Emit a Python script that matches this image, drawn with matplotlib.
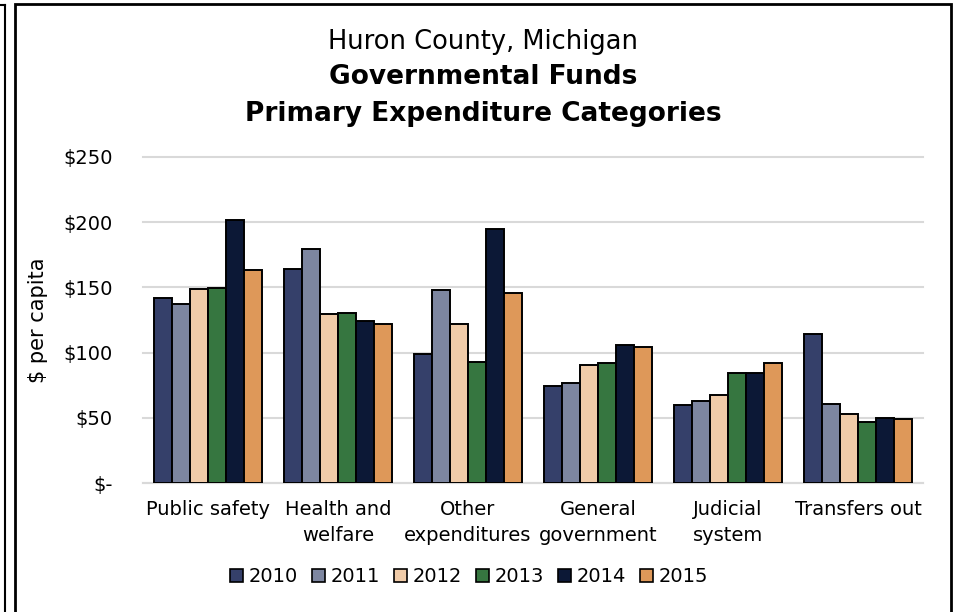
import matplotlib.pyplot as plt
import numpy as np
from matplotlib.lines import Line2D
from matplotlib.patches import Rectangle

plt.rcParams['font.family'] = ['DejaVu Sans']

# categories and yearly values ($ per capita)
categories = ['Public safety', 'Health and\nwelfare', 'Other\nexpenditures',
              'General\ngovernment', 'Judicial\nsystem', 'Transfers out']
years = ['2010', '2011', '2012', '2013', '2014', '2015']
v2010 = [141.6, 163.9, 99.2, 74.7, 59.7, 114.5]
v2011 = [137.0, 179.2, 148.0, 76.8, 63.0, 60.7]
v2012 = [148.8, 129.9, 122.2, 90.8, 67.6, 52.8]
v2013 = [149.8, 130.6, 93.1, 92.1, 84.2, 46.9]
v2014 = [201.6, 124.5, 195.0, 105.7, 84.7, 50.0]
v2015 = [163.0, 122.2, 145.7, 104.6, 91.9, 49.0]
series = [v2010, v2011, v2012, v2013, v2014, v2015]
colors = ['#35406a', '#7d86a0', '#f0cba8', '#367640', '#0c1836', '#de9859']

fig = plt.figure(figsize=(9.56, 6.12), dpi=100)
ax = fig.add_axes([143 / 956, 1 - 483.3 / 612, 780 / 956, 326.5 / 612])

x = np.arange(len(categories))
w = 0.138
for i, (vals, c) in enumerate(zip(series, colors)):
    ax.bar(x + (i - 2.5) * w, vals, width=w, color=c, edgecolor='black',
           linewidth=1.4, label=years[i], zorder=3)

ax.set_xlim(-0.5, len(categories) - 0.5)
ax.set_ylim(0, 250)
ax.set_yticks(range(0, 251, 50))
ax.set_yticklabels(['$-', '$50', '$100', '$150', '$200', '$250'])
ax.yaxis.grid(True, color='#d9d9d9', linewidth=1.5, zorder=0)
for gl in ax.get_ygridlines():
    gl.set_clip_on(False)
ax.set_xticks(x)
ax.set_xticklabels(categories, fontsize=14, linespacing=1.45)
ax.tick_params(axis='y', labelsize=14, length=0, pad=22)
ax.tick_params(axis='x', length=0, pad=12)
for s in ['top', 'right', 'left']:
    ax.spines[s].set_visible(False)
ax.spines['bottom'].set_color('#d9d9d9')
ax.spines['bottom'].set_linewidth(1.5)
ax.set_ylabel('$ per capita', fontsize=15)
ax.yaxis.set_label_coords((48 - 143) / 780, 0.5)

fig.text(483 / 956, 1 - 42 / 612, 'Huron County, Michigan', ha='center', va='center', fontsize=18.5)
fig.text(483 / 956, 1 - 77 / 612, 'Governmental Funds', ha='center', va='center', fontsize=19,
         fontweight='bold')
fig.text(483 / 956, 1 - 114 / 612, 'Primary Expenditure Categories', ha='center', va='center',
         fontsize=19, fontweight='bold')

handles = [Rectangle((0, 0), 1, 1, facecolor=c, edgecolor='black', linewidth=1.2) for c in colors]
fig.legend(handles, years, loc='center', bbox_to_anchor=(469 / 956, 1 - 577 / 612), ncol=6,
           frameon=False, fontsize=14, handlelength=0.67, handleheight=0.67, handletextpad=0.26,
           columnspacing=0.75)

# outer frames
fig.add_artist(Rectangle((15 / 956, -0.01), 936 / 956, 1 - 4 / 612 + 0.01, transform=fig.transFigure,
                         fill=False, edgecolor='black', linewidth=2))
fig.add_artist(Line2D([4.5 / 956, 4.5 / 956], [0, 1 - 4.5 / 612], transform=fig.transFigure,
                      color='black', linewidth=1.5))
fig.add_artist(Line2D([0, 4.5 / 956], [1 - 4.5 / 612, 1 - 4.5 / 612], transform=fig.transFigure,
                      color='black', linewidth=1.5))

fig.savefig('out.png', dpi=100)
